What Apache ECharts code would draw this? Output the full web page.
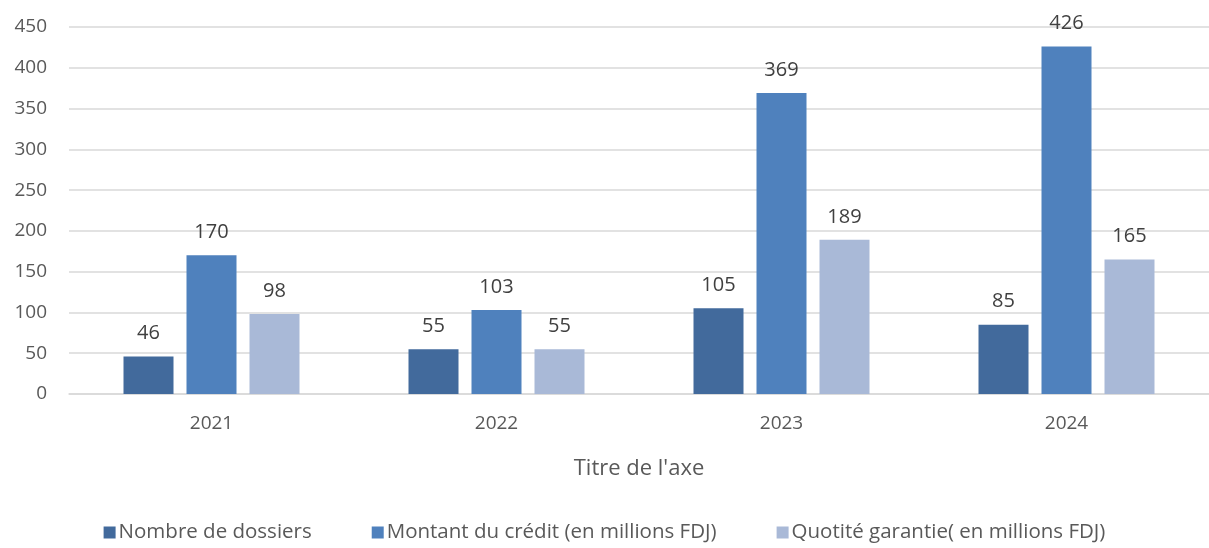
<!DOCTYPE html>
<html>
<head>
<meta charset="utf-8">
<script src="https://cdn.jsdelivr.net/npm/echarts@6/dist/echarts.min.js"></script>
<style>
  html, body { margin: 0; padding: 0; background: #fff; }
  #chart { width: 1209px; height: 548px; }
</style>
</head>
<body>
<div id="chart"></div>
<script>
const years = ['2021', '2022', '2023', '2024'];
const dossiers = [46, 55, 105, 85];
const montant = [170, 103, 369, 426];
const quotite = [98, 55, 189, 165];

const font = 'Open Sans';
const textColor = '#595959';

const chart = echarts.init(document.getElementById('chart'));

function barSeries(name, data, color) {
  return {
    name: name,
    type: 'bar',
    data: data,
    barWidth: 50,
    barGap: '26%',
    itemStyle: { color: color },
    label: {
      show: true,
      position: 'top',
      distance: 13,
      color: '#404040',
      fontFamily: font,
      fontSize: 20
    }
  };
}

chart.setOption({
  animation: false,
  grid: { left: 69, right: 0, top: 27, bottom: 154 },
  legend: {
    bottom: 0,
    left: 'center',
    itemWidth: 12,
    itemHeight: 12,
    itemGap: 60,
    icon: 'rect',
    textStyle: { color: textColor, fontFamily: font, fontSize: 20.5, padding: [0, 0, 0, -2] },
    data: ['Nombre de dossiers', 'Montant du crédit (en millions FDJ)', 'Quotité garantie( en millions FDJ)']
  },
  xAxis: {
    type: 'category',
    data: years,
    name: "Titre de l'axe",
    nameLocation: 'middle',
    nameGap: 64,
    nameTextStyle: { color: textColor, fontFamily: font, fontSize: 22 },
    axisLine: { lineStyle: { color: '#d9d9d9', width: 1.5 } },
    axisTick: { show: false },
    axisLabel: { color: textColor, fontFamily: font, fontSize: 19, margin: 20 }
  },
  yAxis: {
    type: 'value',
    min: 0,
    max: 450,
    interval: 50,
    axisLine: { show: false },
    axisTick: { show: false },
    splitLine: { lineStyle: { color: '#d9d9d9', width: 1.5 } },
    axisLabel: { color: textColor, fontFamily: font, fontSize: 19, margin: 22 }
  },
  series: [
    barSeries('Nombre de dossiers', dossiers, '#426a9c'),
    barSeries('Montant du crédit (en millions FDJ)', montant, '#4f81bd'),
    barSeries('Quotité garantie( en millions FDJ)', quotite, '#a9b9d7')
  ]
});
</script>
</body>
</html>
